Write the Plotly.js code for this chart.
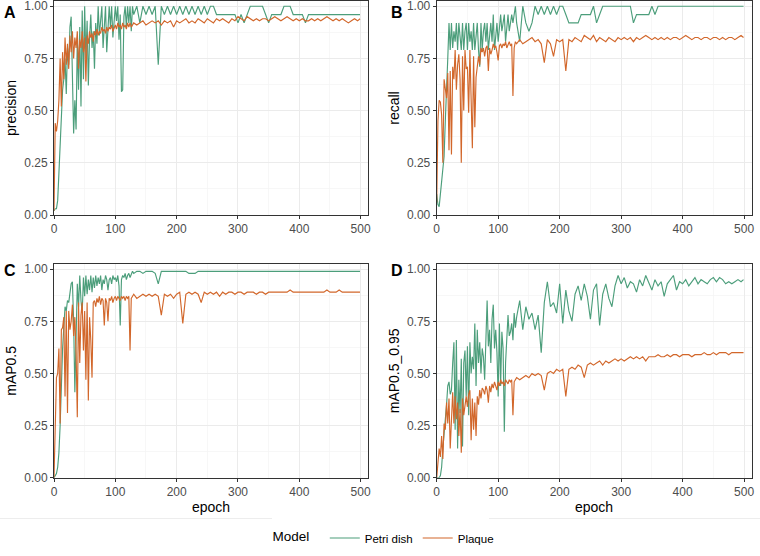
<!DOCTYPE html>
<html>
<head>
<meta charset="utf-8">
<script src="https://cdn.plot.ly/plotly-3.0.1.min.js"></script>
<style>html,body{margin:0;padding:0;background:#fff;}#chart{width:760px;height:556px;}</style>
</head>
<body>
<div id="chart"></div>
<script>
const EPOCH = [0,2,4,6,8,10,12,14,16,18,20,22,24,26,28,30,32,34,36,38,
  40,42,44,46,48,50,52,54,56,58,60,62,64,66,68,70,72,74,76,78,
  80,82,84,86,88,90,92,94,96,98,100,102,104,106,108,110,112,114,116,118,
  120,122,124,126,128,130,
  135,140,145,150,155,160,165,170,175,180,185,190,195,200,205,210,215,220,225,230,
  235,240,245,250,255,260,265,270,275,280,285,290,295,300,305,310,315,320,325,330,
  335,340,345,350,355,360,365,370,375,380,385,390,395,400,405,410,415,420,425,430,
  435,440,445,450,455,460,465,470,475,480,485,490,495,
  499];

const MODELS = ["Petri dish", "Plaque"];
const PANEL_TAGS = ["A", "B", "C", "D"];
const METRICS = ["precision", "recall", "mAP0.5", "mAP0.5_0.95"];
const X_TICKS = [0, 100, 200, 300, 400, 500];
const Y_TICKS = [0, 0.25, 0.5, 0.75, 1.0];

const PREC_PETRI = [0.02,0.03,0.03,0.07,0.2,0.35,0.5,0.6,0.65,0.75,0.58,0.8,0.72,0.9,0.95,0.7,0.39,0.55,0.41,0.85,
  0.6,0.9,0.52,0.98,0.65,1.0,0.75,0.93,0.62,0.85,0.96,0.8,0.88,0.7,0.92,0.82,1.0,0.86,0.95,1.0,
  0.8,0.88,1.0,0.78,0.92,1.0,0.9,1.0,0.85,0.95,1.0,0.93,1.0,0.84,0.96,0.59,0.6,0.95,1.0,0.9,
  1.0,0.92,1.0,0.88,1.0,0.96,
  1.0,0.92,1.0,0.96,1.0,0.96,1.0,0.72,1.0,0.96,1.0,0.96,1.0,0.96,1.0,0.96,1.0,0.96,1.0,0.96,
  1.0,0.96,1.0,0.96,1.0,1.0,0.96,0.96,0.96,0.96,0.96,0.96,0.96,0.92,0.96,0.92,0.96,1.0,1.0,1.0,
  1.0,1.0,0.96,0.92,0.96,0.96,0.96,0.96,1.0,1.0,1.0,0.96,0.96,0.96,0.96,0.92,0.96,0.96,0.96,0.96,
  0.96,0.96,0.96,0.96,0.96,0.96,0.96,0.96,0.96,0.96,0.96,0.96,0.96,
  0.96];
const PREC_PLAQUE = [0.02,0.44,0.4,0.45,0.55,0.75,0.52,0.78,0.65,0.85,0.72,0.82,0.7,0.86,0.78,0.88,0.75,0.85,0.8,0.88,
  0.7,0.84,0.8,0.88,0.78,0.85,0.64,0.86,0.82,0.88,0.85,0.87,0.83,0.88,0.86,0.89,0.86,0.88,0.87,0.9,
  0.88,0.89,0.87,0.9,0.88,0.9,0.89,0.91,0.88,0.9,0.91,0.89,0.92,0.9,0.91,0.89,0.92,0.9,0.91,0.89,
  0.92,0.9,0.92,0.9,0.91,0.92,
  0.91,0.92,0.93,0.91,0.92,0.93,0.92,0.93,0.91,0.93,0.92,0.93,0.9,0.93,0.92,0.93,0.94,0.92,0.93,0.92,
  0.94,0.93,0.92,0.94,0.93,0.92,0.94,0.93,0.94,0.93,0.92,0.94,0.93,0.95,0.94,0.93,0.95,0.94,0.93,0.94,
  0.93,0.94,0.94,0.93,0.94,0.95,0.94,0.93,0.94,0.95,0.94,0.93,0.94,0.93,0.94,0.93,0.93,0.94,0.93,0.94,
  0.93,0.94,0.95,0.94,0.93,0.94,0.93,0.94,0.93,0.92,0.93,0.94,0.93,
  0.94];

const RECALL_PETRI = [0.1,0.05,0.04,0.1,0.15,0.2,0.28,0.45,0.65,0.75,0.92,0.79,0.92,0.8,0.88,0.83,0.92,0.79,0.92,0.83,
  0.79,0.92,0.79,0.88,0.92,0.79,0.92,0.83,0.88,0.79,0.92,0.79,0.88,0.92,0.79,0.71,0.92,0.79,0.88,0.92,
  0.83,0.92,0.79,0.88,0.92,0.83,0.96,0.79,0.88,0.92,0.83,0.92,0.96,0.88,0.92,0.96,0.83,0.92,0.96,0.88,
  0.92,0.96,0.92,0.96,1.0,0.92,
  0.83,1.0,0.92,0.88,0.92,1.0,0.96,1.0,0.96,1.0,0.96,1.0,0.96,1.0,1.0,0.96,0.92,0.92,0.92,0.92,
  0.96,0.96,0.96,0.96,1.0,0.92,0.96,1.0,1.0,1.0,1.0,1.0,1.0,1.0,1.0,1.0,1.0,0.92,0.96,0.96,
  0.96,0.96,0.96,1.0,0.96,1.0,1.0,1.0,1.0,1.0,1.0,1.0,1.0,1.0,1.0,1.0,1.0,1.0,1.0,1.0,
  1.0,1.0,1.0,1.0,1.0,1.0,1.0,1.0,1.0,1.0,1.0,1.0,1.0,
  1.0];
const RECALL_PLAQUE = [0.06,0.45,0.55,0.54,0.48,0.25,0.65,0.6,0.56,0.68,0.31,0.69,0.29,0.71,0.65,0.79,0.6,0.72,0.77,0.65,
  0.25,0.76,0.5,0.79,0.7,0.71,0.49,0.79,0.55,0.32,0.76,0.42,0.66,0.71,0.76,0.72,0.8,0.78,0.8,0.76,
  0.8,0.81,0.69,0.8,0.77,0.79,0.82,0.8,0.81,0.78,0.74,0.81,0.82,0.8,0.82,0.81,0.83,0.8,0.82,0.83,
  0.81,0.82,0.57,0.8,0.83,0.82,
  0.84,0.82,0.83,0.84,0.85,0.83,0.84,0.82,0.73,0.84,0.82,0.76,0.84,0.83,0.84,0.69,0.84,0.83,0.85,0.84,
  0.83,0.86,0.85,0.84,0.86,0.83,0.85,0.84,0.83,0.85,0.84,0.83,0.85,0.84,0.85,0.84,0.85,0.83,0.85,0.84,
  0.85,0.86,0.85,0.84,0.85,0.84,0.85,0.84,0.85,0.84,0.85,0.85,0.84,0.85,0.86,0.85,0.84,0.85,0.85,0.84,
  0.85,0.85,0.84,0.85,0.85,0.84,0.85,0.84,0.85,0.85,0.84,0.85,0.86,
  0.85];

const MAP50_PETRI = [0.0,0.01,0.02,0.05,0.12,0.25,0.45,0.62,0.72,0.82,0.8,0.85,0.84,0.9,0.93,0.94,0.75,0.41,0.7,0.93,
  0.82,0.97,0.85,0.79,0.96,0.87,0.97,0.88,0.95,0.9,0.97,0.89,0.96,0.91,0.97,0.92,0.96,0.93,0.97,0.9,
  0.95,0.93,0.97,0.95,0.9,0.95,0.96,0.93,0.97,0.95,0.96,0.94,0.97,0.92,0.73,0.95,0.97,0.96,0.98,0.95,
  0.97,0.98,0.96,0.98,0.99,0.98,
  0.99,0.99,0.98,0.99,0.99,0.99,0.98,0.93,0.99,0.99,0.99,0.99,0.99,0.99,0.99,0.99,0.99,0.98,0.98,0.98,
  0.99,0.99,0.99,0.99,0.99,0.99,0.99,0.99,0.99,0.99,0.99,0.99,0.99,0.99,0.99,0.99,0.99,0.99,0.99,0.99,
  0.99,0.99,0.99,0.99,0.99,0.99,0.99,0.99,0.99,0.99,0.99,0.99,0.99,0.99,0.99,0.99,0.99,0.99,0.99,0.99,
  0.99,0.99,0.99,0.99,0.99,0.99,0.99,0.99,0.99,0.99,0.99,0.99,0.99,
  0.99];
const MAP50_PLAQUE = [0.0,0.3,0.48,0.5,0.62,0.26,0.71,0.72,0.77,0.39,0.8,0.31,0.8,0.71,0.75,0.83,0.68,0.77,0.6,0.29,
  0.84,0.55,0.78,0.84,0.61,0.8,0.47,0.84,0.37,0.77,0.66,0.48,0.84,0.85,0.82,0.86,0.84,0.87,0.83,0.86,
  0.85,0.73,0.86,0.84,0.75,0.86,0.85,0.87,0.84,0.86,0.87,0.85,0.87,0.86,0.85,0.87,0.86,0.87,0.85,0.87,
  0.86,0.87,0.61,0.86,0.87,0.88,
  0.86,0.87,0.88,0.87,0.88,0.87,0.88,0.87,0.78,0.88,0.87,0.88,0.86,0.88,0.89,0.74,0.88,0.89,0.88,0.89,
  0.88,0.84,0.89,0.88,0.89,0.88,0.89,0.87,0.89,0.88,0.89,0.89,0.88,0.89,0.89,0.88,0.89,0.89,0.89,0.88,
  0.89,0.89,0.88,0.89,0.89,0.89,0.89,0.89,0.89,0.89,0.9,0.89,0.89,0.89,0.89,0.89,0.89,0.89,0.89,0.89,
  0.89,0.89,0.9,0.89,0.89,0.89,0.9,0.89,0.89,0.89,0.89,0.89,0.89,
  0.89];

const MAP5095_PETRI = [0.0,0.0,0.0,0.01,0.05,0.14,0.2,0.28,0.35,0.44,0.46,0.4,0.42,0.55,0.65,0.23,0.66,0.14,0.47,0.31,
  0.57,0.15,0.55,0.61,0.39,0.63,0.3,0.65,0.5,0.58,0.52,0.74,0.44,0.71,0.55,0.65,0.5,0.62,0.58,0.47,
  0.7,0.85,0.63,0.71,0.55,0.76,0.83,0.62,0.71,0.6,0.39,0.74,0.44,0.7,0.62,0.22,0.55,0.71,0.78,0.68,
  0.7,0.74,0.66,0.79,0.72,0.77,
  0.85,0.71,0.82,0.76,0.79,0.71,0.78,0.6,0.84,0.94,0.82,0.84,0.79,0.93,0.74,0.9,0.8,0.75,0.88,0.92,
  0.85,0.93,0.87,0.76,0.9,0.93,0.73,0.88,0.93,0.86,0.82,0.92,0.97,0.93,0.96,0.91,0.94,0.93,0.89,0.95,
  0.92,0.97,0.93,0.9,0.95,0.92,0.94,0.87,0.93,0.95,0.97,0.9,0.94,0.93,0.95,0.92,0.94,0.96,0.93,0.95,
  0.94,0.93,0.95,0.96,0.94,0.96,0.95,0.93,0.94,0.93,0.94,0.95,0.94,
  0.95];
const MAP5095_PLAQUE = [0.0,0.07,0.14,0.1,0.2,0.09,0.26,0.23,0.36,0.26,0.38,0.14,0.33,0.41,0.26,0.39,0.28,0.36,0.2,0.33,
  0.12,0.38,0.3,0.36,0.39,0.34,0.4,0.42,0.18,0.38,0.23,0.36,0.2,0.39,0.35,0.42,0.38,0.43,0.42,0.4,
  0.44,0.42,0.36,0.44,0.41,0.45,0.43,0.46,0.44,0.42,0.46,0.44,0.47,0.45,0.46,0.44,0.47,0.46,0.45,0.47,
  0.46,0.47,0.3,0.46,0.47,0.48,
  0.47,0.48,0.49,0.48,0.5,0.49,0.5,0.49,0.42,0.5,0.51,0.5,0.52,0.51,0.52,0.39,0.52,0.53,0.52,0.54,
  0.53,0.48,0.54,0.55,0.54,0.55,0.56,0.54,0.56,0.55,0.56,0.57,0.56,0.57,0.56,0.57,0.58,0.57,0.58,0.57,
  0.58,0.56,0.58,0.58,0.58,0.59,0.58,0.58,0.59,0.58,0.59,0.59,0.58,0.59,0.59,0.59,0.58,0.59,0.59,0.59,
  0.6,0.59,0.59,0.6,0.59,0.6,0.6,0.6,0.59,0.6,0.6,0.6,0.6,
  0.6];

const SERIES = [
  [PREC_PETRI, PREC_PLAQUE],
  [RECALL_PETRI, RECALL_PLAQUE],
  [MAP50_PETRI, MAP50_PLAQUE],
  [MAP5095_PETRI, MAP5095_PLAQUE]
];

const COLORS = ["#4C9E7B", "#D2672B"];
const FONT = "Liberation Sans, Arial, Helvetica, sans-serif";

const traces = [];
SERIES.forEach((pair, p) => {
  const sfx = p === 0 ? "" : String(p + 1);
  pair.forEach((vals, m) => {
    traces.push({
      type: "scatter", mode: "lines",
      x: EPOCH, y: vals,
      xaxis: "x" + sfx, yaxis: "y" + sfx,
      name: MODELS[m], legendgroup: MODELS[m], showlegend: p === 0,
      line: {color: COLORS[m], width: 1.15},
      hoverinfo: "skip"
    });
  });
});

// panel geometry (fractions of the 760x556 canvas)
const XDOM = [[54/760, 368/760], [436.7/760, 751.5/760]];
const YDOM = [[1 - 215/556, 1 - 1/556], [1 - 477.7/556, 1 - 264/556]];

function xAxis(p) {
  const row = Math.floor(p / 2), col = p % 2;
  const ax = {
    domain: XDOM[col], anchor: "y" + (p === 0 ? "" : p + 1),
    range: [0, 512], tickmode: "array", tickvals: X_TICKS,
    showgrid: true, gridcolor: "#EBEBEB", gridwidth: 1,
    minor: {tickmode: "array", tickvals: [50,150,250,350,450], showgrid: true, gridcolor: "#F4F4F4", gridwidth: 0.7, ticks: ""},
    showline: true, linecolor: "#333333", linewidth: 1, mirror: true,
    ticks: "outside", ticklen: 3, tickcolor: "#333333", tickwidth: 1,
    tickfont: {family: FONT, size: 12, color: "#4D4D4D"},
    ticklabeloverflow: "allow",
    zeroline: false, automargin: false, fixedrange: true
  };
  if (row === 1) {
    ax.title = {text: "epoch", font: {family: FONT, size: 14, color: "#000"}, standoff: 2};
  }
  return ax;
}
function yAxis(p) {
  const row = Math.floor(p / 2);
  return {
    domain: YDOM[row], anchor: "x" + (p === 0 ? "" : p + 1),
    range: [0, 1.025], tickmode: "array", tickvals: Y_TICKS,
    ticktext: Y_TICKS.map(v => v.toFixed(2)),
    showgrid: true, gridcolor: "#EBEBEB", gridwidth: 1,
    minor: {tickmode: "array", tickvals: [0.125,0.375,0.625,0.875], showgrid: true, gridcolor: "#F4F4F4", gridwidth: 0.7, ticks: ""},
    showline: true, linecolor: "#333333", linewidth: 1, mirror: true,
    ticks: "outside", ticklen: 3, tickcolor: "#333333", tickwidth: 1,
    tickfont: {family: FONT, size: 12, color: "#4D4D4D"},
    ticklabeloverflow: "allow",
    title: {text: METRICS[p], font: {family: FONT, size: 14, color: "#000"}, standoff: 4},
    zeroline: false, automargin: false, fixedrange: true
  };
}

const layout = {
  width: 760, height: 556,
  margin: {l: 0, r: 0, t: 0, b: 0},
  paper_bgcolor: "#FFFFFF", plot_bgcolor: "#FFFFFF",
  font: {family: FONT},
  showlegend: true,
  legend: {
    orientation: "h", x: 385/760, xanchor: "center", y: 1 - 538/556, yanchor: "middle",
    title: {text: "Model  ", font: {family: FONT, size: 13.5, color: "#000"}, side: "left"},
    font: {family: FONT, size: 11.5, color: "#000"},
    itemwidth: 30, bgcolor: "rgba(0,0,0,0)", tracegroupgap: 0
  },
  annotations: PANEL_TAGS.map((t, p) => ({
    text: "<b>" + t + "</b>", xref: "paper", yref: "paper",
    x: (p % 2 === 0 ? 9.5 : 397) / 760, y: 1 - (p < 2 ? 12.5 : 270.5) / 556,
    xanchor: "center", yanchor: "middle", showarrow: false,
    font: {family: FONT, size: 16, color: "#000"}
  })),
  shapes: [
    {type: "line", xref: "paper", yref: "paper", x0: 0, x1: 272/760, y0: 1 - 518.5/556, y1: 1 - 518.5/556, line: {color: "#EDEDED", width: 1}},
    {type: "line", xref: "paper", yref: "paper", x0: 489/760, x1: 1, y0: 1 - 518.5/556, y1: 1 - 518.5/556, line: {color: "#EDEDED", width: 1}}
  ]
};
for (let p = 0; p < 4; p++) {
  const sfx = p === 0 ? "" : String(p + 1);
  layout["xaxis" + sfx] = xAxis(p);
  layout["yaxis" + sfx] = yAxis(p);
}

SERIES.forEach(pair => pair.forEach(v => { if (v.length !== EPOCH.length) console.error("length mismatch", v.length); }));

Plotly.newPlot("chart", traces, layout, {staticPlot: true, displayModeBar: false});
</script>
</body>
</html>
